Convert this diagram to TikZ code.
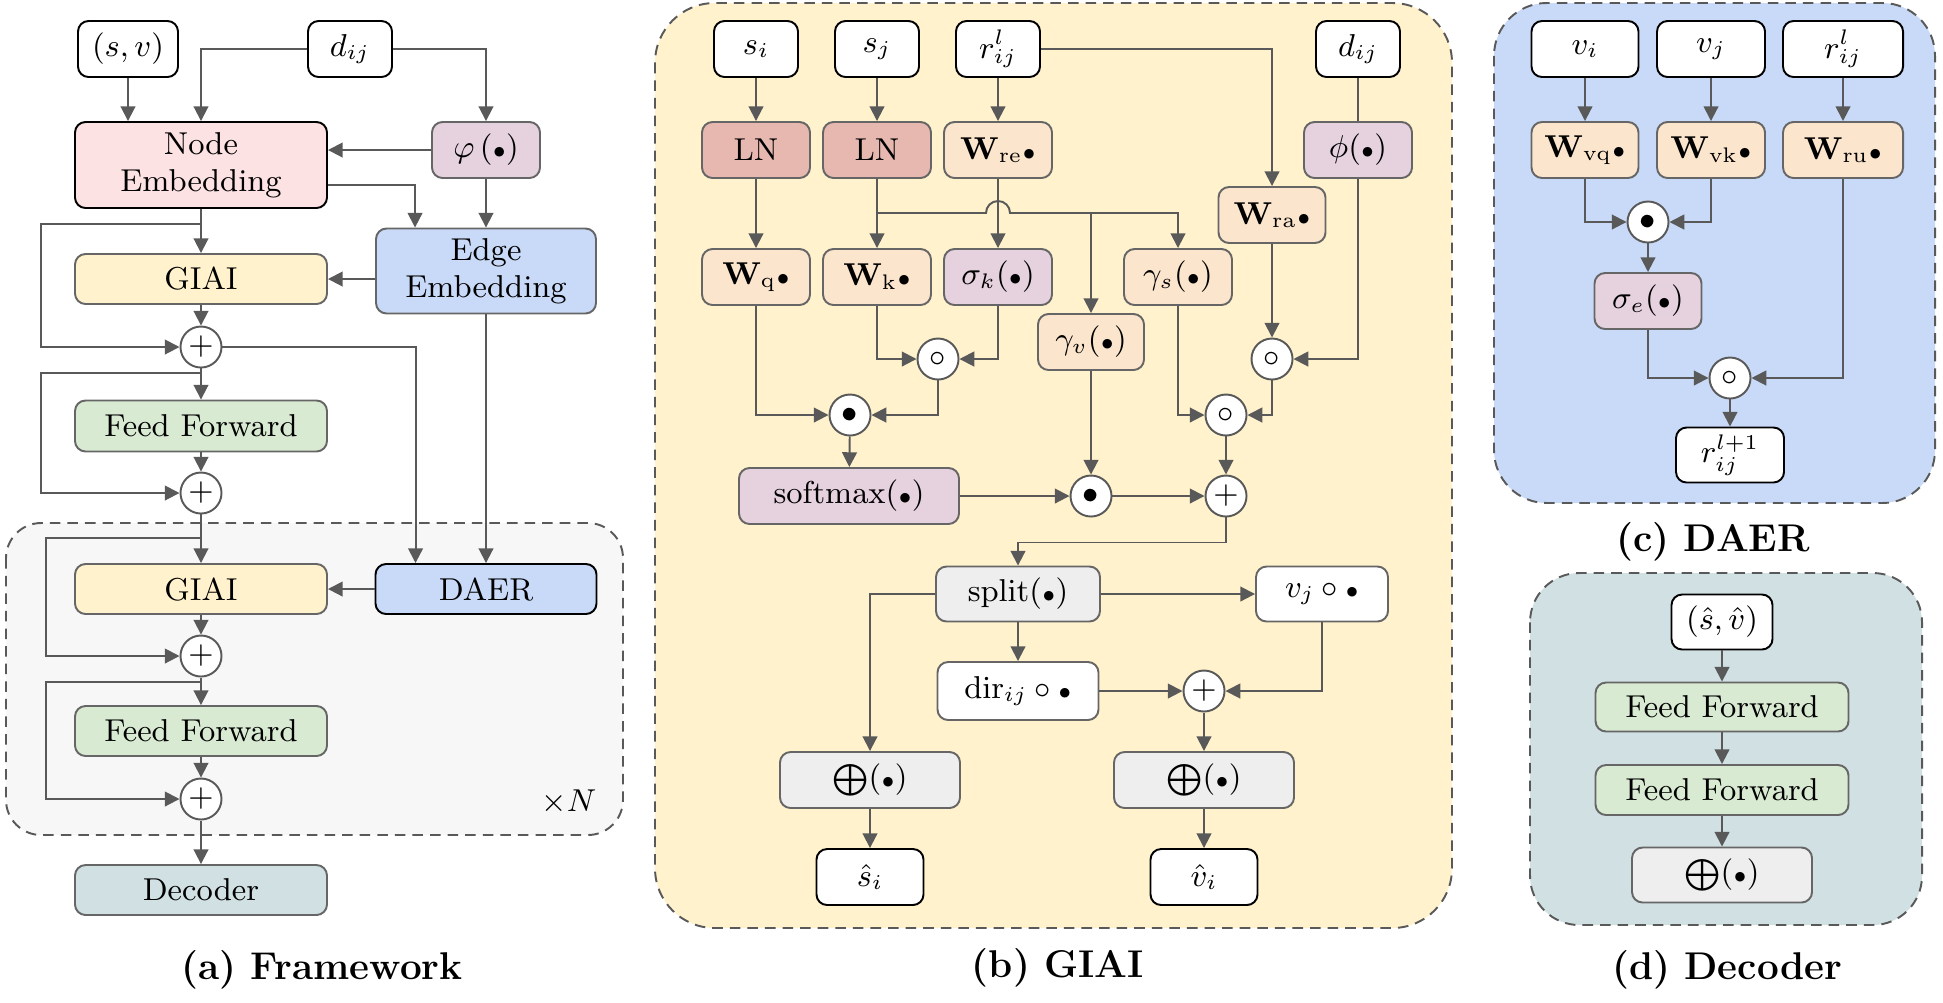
\documentclass[tikz,border=0pt]{standalone}
\usepackage{amsmath}
\usepackage{amssymb}
\usetikzlibrary{arrows.meta,calc}
\definecolor{linegray}{HTML}{595959}
\definecolor{boxline}{HTML}{666666}
\definecolor{nodepink}{HTML}{FDE2E4}
\definecolor{mauve}{HTML}{E6D2DE}
\definecolor{eblue}{HTML}{C9DAF8}
\definecolor{giaiyel}{HTML}{FFF2CC}
\definecolor{ffgreen}{HTML}{D9EAD3}
\definecolor{decblue}{HTML}{D0E0E3}
\definecolor{lnrose}{HTML}{E6B8AF}
\definecolor{worange}{HTML}{FCE5CD}
\definecolor{opgray}{HTML}{EEEEEE}
\definecolor{boxgray}{HTML}{F7F7F7}
\newcommand{\argdot}{{\scriptstyle\bullet}}

\begin{document}
\begin{tikzpicture}[x=0.01cm, y=-0.01cm, line width=0.55pt,
    font=\fontsize{9}{10.5}\selectfont,
    arr/.style={draw=linegray, -{Triangle[length=4.2pt,width=4.2pt]}},
    ln/.style={draw=linegray},
    panel/.style={draw=linegray, dash pattern=on 3pt off 2pt},
    wh/.style 2 args={minimum width=#1*0.01cm, minimum height=#2*0.01cm},
    blk/.style={draw=boxline, rounded corners=3pt, inner sep=0pt, align=center},
    inbox/.style={blk, draw=black, fill=white},
    op/.style={circle, draw=linegray, fill=white, minimum size=0.41cm, inner sep=0pt},
    captext/.style={font=\fontsize{11}{13}\selectfont\bfseries}]
\useasboundingbox (0,0) rectangle (1943,1002);

\draw[panel, fill=boxgray, rounded corners=10pt] (6,523) rectangle (623,835);
\draw[panel, fill=giaiyel, rounded corners=17pt] (655,3) rectangle (1452,928);
\draw[panel, fill=eblue, rounded corners=15pt] (1494,3) rectangle (1935,503);
\draw[panel, fill=decblue, rounded corners=14pt] (1530,573) rectangle (1922,925);

\node[inbox, wh={100}{56}] (sv) at (128,49) {$(s,v)$};
\node[inbox, wh={84}{56}] (dA) at (350,49) {$d_{ij}$};
\node[blk, draw=black, fill=nodepink, wh={252}{86}] (nemb) at (201,165) {Node\\Embedding};
\node[blk, fill=mauve, wh={108}{56}] (phiA) at (486,150) {$\varphi\,(\argdot)$};
\node[blk, fill=eblue, wh={220}{85}] (eemb) at (486,271) {Edge\\Embedding};
\node[blk, fill=giaiyel, wh={252}{50}] (giaiA) at (201,279) {GIAI};
\node[op] (p1) at (201,347) {$+$};
\node[blk, fill=ffgreen, wh={252}{51}] (ffA) at (201,426) {Feed Forward};
\node[op] (p2) at (201,493) {$+$};
\node[blk, fill=giaiyel, wh={252}{50}] (giaiB) at (201,589) {GIAI};
\node[blk, draw=black, fill=eblue, wh={221}{50}] (daer) at (486,589) {DAER};
\node[op] (p3) at (201,656) {$+$};
\node[blk, fill=ffgreen, wh={252}{50}] (ffB) at (201,731) {Feed Forward};
\node[op] (p4) at (201,799) {$+$};
\node[blk, fill=decblue, wh={252}{50}] (dec) at (201,890) {Decoder};
\node (times) at (569,802) {$\times N$};
\node[captext] (capA) at (322,970) {(a) Framework};

\coordinate (railA) at (41,0);
\coordinate (railB) at (46,0);
\coordinate (r1) at (201,224);
\coordinate (r2) at (201,373);
\coordinate (r3) at (201,538);
\coordinate (r4) at (201,682);

\draw[arr] (sv) -- (sv |- nemb.north);
\draw[arr] (dA) -| (nemb);
\draw[arr] (dA) -| (phiA);
\draw[arr] (phiA) -- (phiA -| nemb.east);
\draw[arr] ($(nemb.east)+(0,20)$) -| ($(eemb.north west)+(40,0)$);
\draw[arr] (phiA) -- (eemb);
\draw[arr] (eemb.west |- giaiA) -- (giaiA);
\draw[arr] (nemb) -- (giaiA);
\draw[arr] (r1) -- (r1 -| railA) |- (p1);
\draw[arr] (giaiA) -- (p1);
\draw[arr] (p1) -- (ffA);
\draw[arr] (ffA) -- (p2);
\draw[arr] (r2) -- (r2 -| railA) |- (p2);
\draw[arr] (p1) -| ($(daer.north west)+(41,0)$);
\draw[arr] (eemb) -- (daer);
\draw[arr] (daer) -- (giaiB);
\draw[arr] (p2) -- (giaiB);
\draw[arr] (r3) -- (r3 -| railB) |- (p3);
\draw[arr] (giaiB) -- (p3);
\draw[arr] (p3) -- (ffB);
\draw[arr] (ffB) -- (p4);
\draw[arr] (r4) -- (r4 -| railB) |- (p4);
\draw[arr] (p4) -- (dec);

\node[inbox, wh={84}{56}] (si) at (756,49) {$s_i$};
\node[inbox, wh={84}{56}] (sj) at (877,49) {$s_j$};
\node[inbox, wh={84}{56}] (rb) at (998,49) {$r_{ij}^{l}$};
\node[inbox, wh={84}{56}] (db) at (1358,49) {$d_{ij}$};
\node[blk, fill=lnrose, wh={108}{56}] (ln1) at (756,150) {LN};
\node[blk, fill=lnrose, wh={108}{56}] (ln2) at (877,150) {LN};
\node[blk, fill=worange, wh={108}{56}] (wre) at (998,150) {$\mathbf{W}_{\mathrm{re}}\argdot$};
\node[blk, fill=mauve, wh={108}{56}] (phib) at (1358,150) {$\phi(\argdot)$};
\node[blk, fill=worange, wh={107}{56}] (wra) at (1272,215) {$\mathbf{W}_{\mathrm{ra}}\argdot$};
\node[blk, fill=worange, wh={108}{56}] (wq) at (756,277) {$\mathbf{W}_{\mathrm{q}}\argdot$};
\node[blk, fill=worange, wh={108}{56}] (wk) at (877,277) {$\mathbf{W}_{\mathrm{k}}\argdot$};
\node[blk, fill=mauve, wh={108}{56}] (sigk) at (998,277) {$\sigma_k(\argdot)$};
\node[blk, fill=worange, wh={108}{56}] (gams) at (1178,277) {$\gamma_s(\argdot)$};
\node[blk, fill=worange, wh={106}{56}] (gamv) at (1091,342) {$\gamma_v(\argdot)$};
\node[op] (c1) at (938,359) {$\circ$};
\node[op] (c2) at (1272,359) {$\circ$};
\node[op] (d1) at (850,415) {$\bullet$};
\node[op] (c3) at (1226,415) {$\circ$};
\node[blk, fill=mauve, wh={220}{56}] (smax) at (849,496) {$\mathrm{softmax}(\argdot)$};
\node[op] (d2) at (1091,496) {$\bullet$};
\node[op] (pb) at (1226,496) {$+$};
\node[blk, fill=opgray, wh={164}{55}] (split) at (1018,594) {$\mathrm{split}(\argdot)$};
\node[blk, fill=white, wh={132}{55}] (vjb) at (1322,594) {$v_j\circ\argdot$};
\node[blk, fill=white, wh={161}{58}] (dir) at (1018,691) {$\mathrm{dir}_{ij}\circ\argdot$};
\node[op] (pc) at (1204,691) {$+$};
\node[blk, fill=opgray, wh={180}{56}] (sum1) at (870,780) {$\bigoplus(\argdot)$};
\node[blk, fill=opgray, wh={180}{56}] (sum2) at (1204,780) {$\bigoplus(\argdot)$};
\node[inbox, wh={107}{56}] (shat) at (870,877) {$\hat{s}_i$};
\node[inbox, wh={107}{56}] (vhat) at (1204,877) {$\hat{v}_i$};
\node[captext] (capB) at (1058,968) {(b) GIAI};

\coordinate (jn) at (877,213);
\draw[arr] (si) -- (ln1);
\draw[arr] (sj) -- (ln2);
\draw[arr] (rb) -- (wre);
\draw[arr] (ln1) -- (wq);
\draw[arr] (ln2) -- (wk);
\draw[arr] (wre) -- (sigk);
\draw[arr] (jn) -- (986,213) arc[start angle=180, end angle=0, radius=0.12cm] -| (gams);
\draw[arr] (gamv |- jn) -- (gamv);
\draw[arr] (rb) -| (wra);
\draw[ln] (db) -- (phib);
\draw[arr] (wra) -- (c2);
\draw[arr] (phib) |- (c2);
\draw[arr] (wk) |- (c1);
\draw[arr] (sigk) |- (c1);
\draw[arr] (wq) |- (d1);
\draw[arr] (c1) |- (d1);
\draw[arr] (d1) -- (smax);
\draw[arr] (smax) -- (d2);
\draw[arr] (gamv) -- (d2);
\draw[arr] (d2) -- (pb);
\draw[arr] (gams) |- (c3);
\draw[arr] (c2) |- (c3);
\draw[arr] (c3) -- (pb);
\draw[arr] (pb.south) -- ++(0,25) -| (split);
\draw[arr] (split) -- (vjb);
\draw[arr] (split) -| (sum1);
\draw[arr] (split) -- (dir);
\draw[arr] (dir) -- (pc);
\draw[arr] (vjb) |- (pc);
\draw[arr] (pc) -- (sum2);
\draw[arr] (sum1) -- (shat);
\draw[arr] (sum2) -- (vhat);

\node[inbox, wh={107}{56}] (vi) at (1585,49) {$v_i$};
\node[inbox, wh={108}{56}] (vjc) at (1711,49) {$v_j$};
\node[inbox, wh={120}{56}] (rc) at (1843,49) {$r_{ij}^{l}$};
\node[blk, fill=worange, wh={107}{56}] (wvq) at (1585,150) {$\mathbf{W}_{\mathrm{vq}}\argdot$};
\node[blk, fill=worange, wh={108}{56}] (wvk) at (1711,150) {$\mathbf{W}_{\mathrm{vk}}\argdot$};
\node[blk, fill=worange, wh={120}{56}] (wru) at (1843,150) {$\mathbf{W}_{\mathrm{ru}}\argdot$};
\node[op] (dc) at (1648,222) {$\bullet$};
\node[blk, fill=mauve, wh={107}{56}] (sige) at (1648,301) {$\sigma_e(\argdot)$};
\node[op] (cc) at (1730,378) {$\circ$};
\node[inbox, wh={108}{55}] (rnext) at (1730,455) {$r_{ij}^{l+1}$};
\node[captext] (capC) at (1713,542) {(c) DAER};

\draw[arr] (vi) -- (wvq);
\draw[arr] (vjc) -- (wvk);
\draw[arr] (rc) -- (wru);
\draw[arr] (wvq) |- (dc);
\draw[arr] (wvk) |- (dc);
\draw[arr] (dc) -- (sige);
\draw[arr] (sige) |- (cc);
\draw[arr] (wru) |- (cc);
\draw[arr] (cc) -- (rnext);

\node[inbox, wh={101}{55}] (shv) at (1722,622) {$(\hat{s},\hat{v})$};
\node[blk, fill=ffgreen, wh={253}{49}] (ffd1) at (1722,707) {Feed Forward};
\node[blk, fill=ffgreen, wh={253}{50}] (ffd2) at (1722,790) {Feed Forward};
\node[blk, fill=opgray, wh={180}{55}] (sumd) at (1722,875) {$\bigoplus(\argdot)$};
\node[captext] (capD) at (1727,970) {(d) Decoder};

\draw[arr] (shv) -- (ffd1);
\draw[arr] (ffd1) -- (ffd2);
\draw[arr] (ffd2) -- (sumd);
\end{tikzpicture}
\end{document}
